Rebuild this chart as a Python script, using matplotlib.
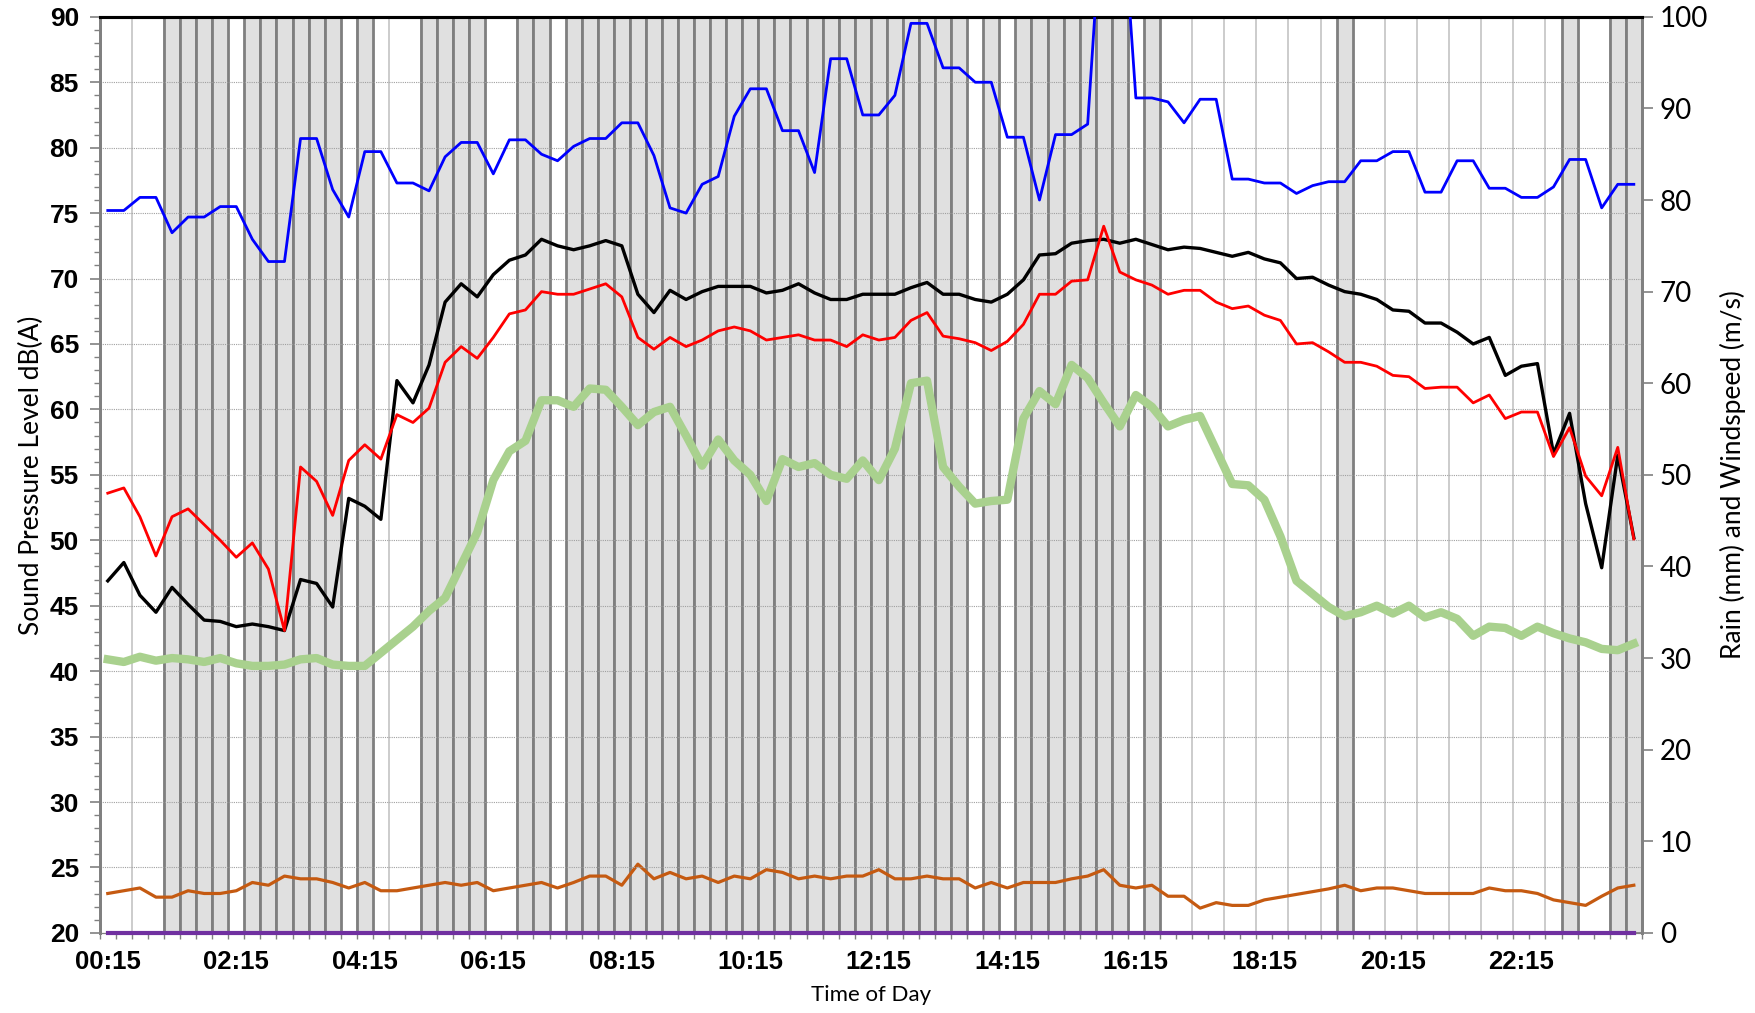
import numpy as np
import matplotlib
matplotlib.use('Agg')
import matplotlib.pyplot as plt
from matplotlib.ticker import MultipleLocator

# 96 x 15 minute intervals, 00:15 .. 24:00
tick_labels = ['00:15', '02:15', '04:15', '06:15', '08:15', '10:15',
               '12:15', '14:15', '16:15', '18:15', '20:15', '22:15']

# sound levels dB(A), left axis
la_max = [75.2, 75.2, 76.2, 76.2, 73.5, 74.7, 74.7, 75.5, 75.5, 73.0, 71.3, 71.3, 80.7, 80.7, 76.8, 74.7,
          79.7, 79.7, 77.3, 77.3, 76.7, 79.3, 80.4, 80.4, 78.0, 80.6, 80.6, 79.5, 79.0, 80.1, 80.7, 80.7,
          81.9, 81.9, 79.4, 75.4, 75.0, 77.2, 77.8, 82.4, 84.5, 84.5, 81.3, 81.3, 78.1, 86.8, 86.8, 82.5,
          82.5, 84.0, 89.5, 89.5, 86.1, 86.1, 85.0, 85.0, 80.8, 80.8, 76.0, 81.0, 81.0, 81.8, 100.5, 101.5,
          83.8, 83.8, 83.5, 81.9, 83.7, 83.7, 77.6, 77.6, 77.3, 77.3, 76.5, 77.1, 77.4, 77.4, 79.0, 79.0,
          79.7, 79.7, 76.6, 76.6, 79.0, 79.0, 76.9, 76.9, 76.2, 76.2, 77.0, 79.1, 79.1, 75.4, 77.2, 77.2]

la_10 = [46.9, 48.3, 45.8, 44.5, 46.4, 45.1, 43.9, 43.8, 43.4, 43.6, 43.4, 43.1, 47.0, 46.7, 44.9, 53.2,
         52.6, 51.6, 62.2, 60.5, 63.4, 68.2, 69.6, 68.6, 70.3, 71.4, 71.8, 73.0, 72.5, 72.2, 72.5, 72.9,
         72.5, 68.8, 67.4, 69.1, 68.4, 69.0, 69.4, 69.4, 69.4, 68.9, 69.1, 69.6, 68.9, 68.4, 68.4, 68.8,
         68.8, 68.8, 69.3, 69.7, 68.8, 68.8, 68.4, 68.2, 68.8, 69.9, 71.8, 71.9, 72.7, 72.9, 73.0, 72.7,
         73.0, 72.6, 72.2, 72.4, 72.3, 72.0, 71.7, 72.0, 71.5, 71.2, 70.0, 70.1, 69.5, 69.0, 68.8, 68.4,
         67.6, 67.5, 66.6, 66.6, 65.9, 65.0, 65.5, 62.6, 63.3, 63.5, 56.6, 59.7, 52.8, 47.9, 56.5, 50.2]

la_eq = [53.6, 54.0, 51.8, 48.8, 51.8, 52.4, 51.2, 50.0, 48.7, 49.8, 47.8, 43.1, 55.6, 54.5, 51.9, 56.1,
         57.3, 56.2, 59.6, 59.0, 60.1, 63.6, 64.8, 63.9, 65.5, 67.3, 67.6, 69.0, 68.8, 68.8, 69.2, 69.6,
         68.6, 65.5, 64.6, 65.5, 64.8, 65.3, 66.0, 66.3, 66.0, 65.3, 65.5, 65.7, 65.3, 65.3, 64.8, 65.7,
         65.3, 65.5, 66.8, 67.4, 65.6, 65.4, 65.1, 64.5, 65.2, 66.5, 68.8, 68.8, 69.8, 69.9, 74.0, 70.5,
         69.9, 69.5, 68.8, 69.1, 69.1, 68.2, 67.7, 67.9, 67.2, 66.8, 65.0, 65.1, 64.4, 63.6, 63.6, 63.3,
         62.6, 62.5, 61.6, 61.7, 61.7, 60.5, 61.1, 59.3, 59.8, 59.8, 56.4, 58.6, 54.9, 53.4, 57.1, 50.1]

la_90 = [40.9, 40.7, 41.1, 40.8, 41.0, 40.9, 40.7, 41.0, 40.6, 40.4, 40.4, 40.5, 40.9, 41.0, 40.5, 40.4,
         40.4, 41.4, 42.4, 43.4, 44.6, 45.6, 48.1, 50.6, 54.6, 56.8, 57.6, 60.7, 60.7, 60.2, 61.6, 61.5,
         60.2, 58.8, 59.8, 60.2, 58.0, 55.7, 57.7, 56.1, 55.0, 53.0, 56.2, 55.6, 55.9, 55.0, 54.7, 56.1,
         54.6, 57.0, 62.0, 62.2, 55.6, 54.1, 52.8, 53.0, 53.1, 59.3, 61.4, 60.4, 63.4, 62.4, 60.5, 58.7,
         61.1, 60.2, 58.7, 59.2, 59.5, 56.9, 54.3, 54.2, 53.1, 50.3, 46.9, 45.9, 44.9, 44.2, 44.5, 45.0,
         44.4, 45.0, 44.1, 44.5, 44.0, 42.7, 43.4, 43.3, 42.7, 43.4, 42.9, 42.5, 42.2, 41.7, 41.6, 42.1]

# rain (mm) and windspeed (m/s), right axis
wind = [4.3, 4.6, 4.9, 3.9, 3.9, 4.6, 4.3, 4.3, 4.6, 5.5, 5.2, 6.2, 5.9, 5.9, 5.5, 4.9,
        5.5, 4.6, 4.6, 4.9, 5.2, 5.5, 5.2, 5.5, 4.6, 4.9, 5.2, 5.5, 4.9, 5.5, 6.2, 6.2,
        5.2, 7.5, 5.9, 6.6, 5.9, 6.2, 5.5, 6.2, 5.9, 6.9, 6.6, 5.9, 6.2, 5.9, 6.2, 6.2,
        6.9, 5.9, 5.9, 6.2, 5.9, 5.9, 4.9, 5.5, 4.9, 5.5, 5.5, 5.5, 5.9, 6.2, 6.9, 5.2,
        4.9, 5.2, 4.0, 4.0, 2.7, 3.3, 3.0, 3.0, 3.6, 3.9, 4.2, 4.5, 4.8, 5.2, 4.6, 4.9,
        4.9, 4.6, 4.3, 4.3, 4.3, 4.3, 4.9, 4.6, 4.6, 4.3, 3.6, 3.3, 3.0, 4.0, 4.9, 5.2]

rain = [0, 0, 0, 0, 0, 0, 0, 0, 0, 0, 0, 0, 0, 0, 0, 0,
        0, 0, 0, 0, 0, 0, 0, 0, 0, 0, 0, 0, 0, 0, 0, 0,
        0, 0, 0, 0, 0, 0, 0, 0, 0, 0, 0, 0, 0, 0, 0, 0,
        0, 0, 0, 0, 0, 0, 0, 0, 0, 0, 0, 0, 0, 0, 0, 0,
        0, 0, 0, 0, 0, 0, 0, 0, 0, 0, 0, 0, 0, 0, 0, 0,
        0, 0, 0, 0, 0, 0, 0, 0, 0, 0, 0, 0, 0, 0, 0, 0]

# shaded intervals (1 = flagged)
flags = [0, 0, 0, 0, 1, 1, 1, 1, 0, 1, 1, 1, 1, 1, 1, 0,
         1, 0, 0, 0, 1, 1, 1, 1, 0, 0, 1, 1, 0, 1, 1, 1,
         1, 1, 1, 1, 1, 1, 1, 1, 1, 1, 1, 1, 1, 1, 1, 1,
         1, 1, 1, 1, 1, 1, 0, 1, 0, 1, 1, 1, 1, 1, 1, 1,
         0, 1, 0, 0, 0, 0, 0, 0, 0, 0, 0, 0, 0, 1, 0, 0,
         0, 0, 0, 0, 0, 0, 0, 0, 0, 0, 0, 1, 0, 0, 1, 1]

narrow = ['Liberation Sans Narrow', 'Lato', 'DejaVu Sans']
bold = ['Liberation Sans', 'DejaVu Sans']

n = len(la_max)
x = np.arange(n)

fig = plt.figure(figsize=(17.56, 10.13), dpi=100)
ax = fig.add_axes([0.0568, 0.0791, 0.8782, 0.9043])
ax2 = ax.twinx()
ax.set_zorder(ax2.get_zorder() + 1)
ax.patch.set_visible(False)

# background: vertical grid, shaded intervals, wind and rain
ax2.vlines(np.arange(-0.5, n, 2), 0, 100, color='#c8c8c8', lw=1.3, zorder=0.5)
idx = [i for i, f in enumerate(flags) if f]
ax2.bar(idx, [100] * len(idx), width=1.0, color='#e0e0e0', edgecolor='#7f7f7f',
        linewidth=2.0, zorder=1)
ax2.plot(x, wind, color='#c55a11', lw=2.3, zorder=3)
ax2.set_ylim(0, 100)
ax2.yaxis.set_major_locator(MultipleLocator(10))
ax2.tick_params(axis='y', direction='out', length=8, width=1.2, color='#808080', pad=5)
for t in ax2.get_yticklabels():
    t.set_family(narrow)
    t.set_fontsize(20)
ax2.set_ylabel('Rain (mm) and Windspeed (m/s)', family=narrow, fontsize=19, labelpad=8)

# sound levels
ax.plot(x, la_90, color='#a9d18e', lw=6, solid_joinstyle='round', zorder=3)
ax.plot(x, la_10, color='black', lw=2.4, zorder=4)
ax.plot(x, la_eq, color='#ff0000', lw=2.0, zorder=5)
ax.plot(x, la_max, color='#0000ff', lw=2.0, zorder=6)
# rain sits on the floor of the chart, drawn on top so the spine does not hide it
rain_db = [20 + r * 0.7 for r in rain]
ax.plot(x, rain_db, color='#7030a0', lw=3, zorder=7, clip_on=False)

ax.set_xlim(-0.5, n - 0.5)
ax.set_ylim(20, 90)
ax.yaxis.set_major_locator(MultipleLocator(5))
ax.yaxis.set_minor_locator(MultipleLocator(1))
ax.tick_params(axis='y', which='major', direction='out', length=7, width=1.2,
               color='#808080', pad=8, labelsize=19)
ax.tick_params(axis='y', which='minor', direction='out', length=4, width=1,
               color='#808080')
for t in ax.get_yticklabels():
    t.set_family(bold)
    t.set_fontweight('bold')

ax.set_xticks(x[::8])
ax.set_xticklabels(tick_labels, family=bold, fontweight='bold', fontsize=18.5)
ax.set_xticks(np.arange(-0.5, n, 1), minor=True)
ax.tick_params(axis='x', which='major', length=0, pad=12)
ax.tick_params(axis='x', which='minor', direction='out', length=4, width=1, color='#808080')

ax.grid(axis='y', which='major', linestyle=(0, (1, 1)), color='#a0a0a0', lw=0.8)
ax.set_ylabel('Sound Pressure Level dB(A)', family=narrow, fontsize=19, labelpad=4)
ax.set_xlabel('Time of Day', family=narrow, fontsize=16, labelpad=8)

for a in (ax, ax2):
    a.spines['left'].set_color('#808080')
    a.spines['left'].set_linewidth(2)
    a.spines['right'].set_color('#808080')
    a.spines['right'].set_linewidth(2)
    a.spines['bottom'].set_color('#808080')
    a.spines['top'].set_color('black')
    a.spines['top'].set_linewidth(2.2)

fig.savefig('out.png', dpi=100)
